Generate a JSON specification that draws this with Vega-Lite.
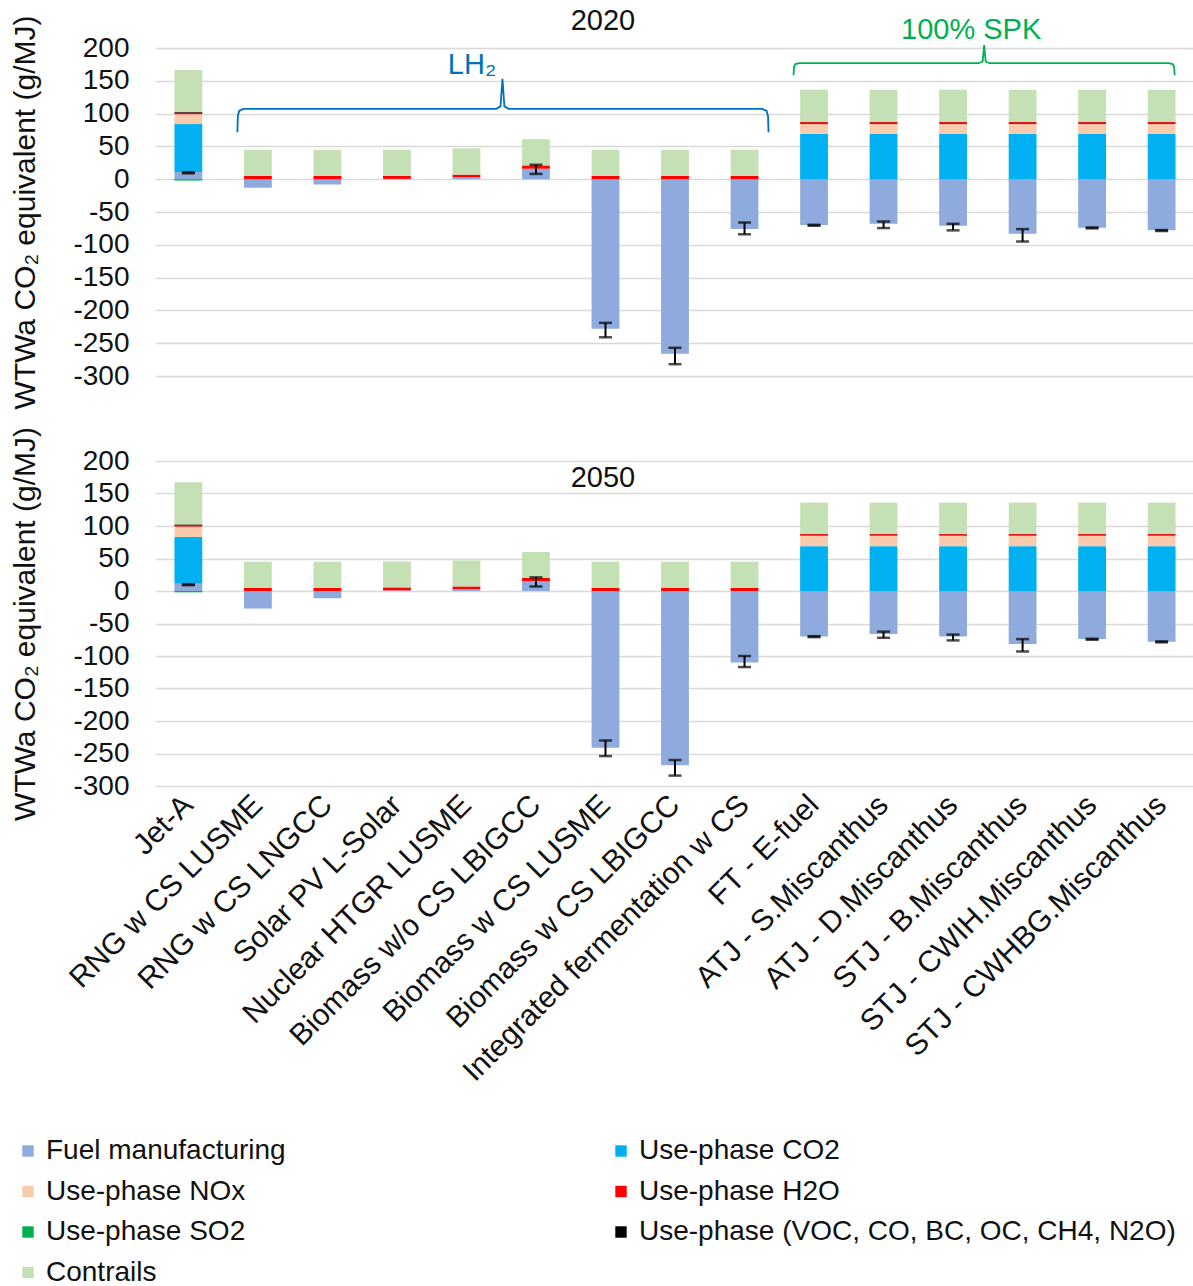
{
  "$schema": "https://vega.github.io/schema/vega-lite/v6.json",
  "padding": {"left": 10, "top": 7, "right": 0, "bottom": 0},
  "bounds": "flush",
  "spacing": 85,
  "config": {
    "font": "Liberation Sans",
    "view": {"stroke": null},
    "axisY": {"grid": true, "gridColor": "#d9d9d9", "gridWidth": 1.5, "domain": false, "ticks": false, "labelFontSize": 28, "labelColor": "#111111", "labelPadding": 26, "labelExpr": "'' + datum.value", "titleFontSize": 30, "titleFontWeight": "normal", "titleColor": "#111111", "titlePadding": 32},
    "legend": {"labelColor": "#111111"}
  },
  "datasets": {
    "series": [
      {"s": "Fuel manufacturing", "k": 1},
      {"s": "Use-phase CO2", "k": 2},
      {"s": "Use-phase NOx", "k": 3},
      {"s": "Use-phase H2O", "k": 4},
      {"s": "Use-phase SO2", "k": 5},
      {"s": "Use-phase (VOC, CO, BC, OC, CH4, N2O)", "k": 6},
      {"s": "Contrails", "k": 7}
    ],
    "bars": [
      {"p": "2020", "c": "Jet-A", "s": "Fuel manufacturing", "v": 11},
      {"p": "2020", "c": "Jet-A", "s": "Use-phase CO2", "v": 73},
      {"p": "2020", "c": "Jet-A", "s": "Use-phase NOx", "v": 15},
      {"p": "2020", "c": "Jet-A", "s": "Use-phase H2O", "v": 2.5},
      {"p": "2020", "c": "Jet-A", "s": "Use-phase SO2", "v": -2},
      {"p": "2020", "c": "Jet-A", "s": "Use-phase (VOC, CO, BC, OC, CH4, N2O)", "v": 1},
      {"p": "2020", "c": "Jet-A", "s": "Contrails", "v": 64},
      {"p": "2020", "c": "RNG w CS LUSME", "s": "Fuel manufacturing", "v": -13},
      {"p": "2020", "c": "RNG w CS LUSME", "s": "Use-phase H2O", "v": 5},
      {"p": "2020", "c": "RNG w CS LUSME", "s": "Contrails", "v": 40},
      {"p": "2020", "c": "RNG w CS LNGCC", "s": "Fuel manufacturing", "v": -8},
      {"p": "2020", "c": "RNG w CS LNGCC", "s": "Use-phase H2O", "v": 5},
      {"p": "2020", "c": "RNG w CS LNGCC", "s": "Contrails", "v": 40},
      {"p": "2020", "c": "Solar PV L-Solar", "s": "Fuel manufacturing", "v": 0.5},
      {"p": "2020", "c": "Solar PV L-Solar", "s": "Use-phase H2O", "v": 4.5},
      {"p": "2020", "c": "Solar PV L-Solar", "s": "Contrails", "v": 40},
      {"p": "2020", "c": "Nuclear HTGR LUSME", "s": "Fuel manufacturing", "v": 3},
      {"p": "2020", "c": "Nuclear HTGR LUSME", "s": "Use-phase H2O", "v": 4},
      {"p": "2020", "c": "Nuclear HTGR LUSME", "s": "Contrails", "v": 40},
      {"p": "2020", "c": "Biomass w/o CS LBIGCC", "s": "Fuel manufacturing", "v": 16},
      {"p": "2020", "c": "Biomass w/o CS LBIGCC", "s": "Use-phase H2O", "v": 5},
      {"p": "2020", "c": "Biomass w/o CS LBIGCC", "s": "Contrails", "v": 40},
      {"p": "2020", "c": "Biomass w CS LUSME", "s": "Fuel manufacturing", "v": -228},
      {"p": "2020", "c": "Biomass w CS LUSME", "s": "Use-phase H2O", "v": 5},
      {"p": "2020", "c": "Biomass w CS LUSME", "s": "Contrails", "v": 40},
      {"p": "2020", "c": "Biomass w CS LBIGCC", "s": "Fuel manufacturing", "v": -266},
      {"p": "2020", "c": "Biomass w CS LBIGCC", "s": "Use-phase H2O", "v": 5},
      {"p": "2020", "c": "Biomass w CS LBIGCC", "s": "Contrails", "v": 40},
      {"p": "2020", "c": "Integrated fermentation w CS", "s": "Fuel manufacturing", "v": -76},
      {"p": "2020", "c": "Integrated fermentation w CS", "s": "Use-phase H2O", "v": 5},
      {"p": "2020", "c": "Integrated fermentation w CS", "s": "Contrails", "v": 40},
      {"p": "2020", "c": "FT - E-fuel", "s": "Fuel manufacturing", "v": -70},
      {"p": "2020", "c": "FT - E-fuel", "s": "Use-phase CO2", "v": 69},
      {"p": "2020", "c": "FT - E-fuel", "s": "Use-phase NOx", "v": 15},
      {"p": "2020", "c": "FT - E-fuel", "s": "Use-phase H2O", "v": 3},
      {"p": "2020", "c": "FT - E-fuel", "s": "Use-phase (VOC, CO, BC, OC, CH4, N2O)", "v": 0.5},
      {"p": "2020", "c": "FT - E-fuel", "s": "Contrails", "v": 49},
      {"p": "2020", "c": "ATJ - S.Miscanthus", "s": "Fuel manufacturing", "v": -68},
      {"p": "2020", "c": "ATJ - S.Miscanthus", "s": "Use-phase CO2", "v": 69},
      {"p": "2020", "c": "ATJ - S.Miscanthus", "s": "Use-phase NOx", "v": 15},
      {"p": "2020", "c": "ATJ - S.Miscanthus", "s": "Use-phase H2O", "v": 3},
      {"p": "2020", "c": "ATJ - S.Miscanthus", "s": "Use-phase (VOC, CO, BC, OC, CH4, N2O)", "v": 0.5},
      {"p": "2020", "c": "ATJ - S.Miscanthus", "s": "Contrails", "v": 49},
      {"p": "2020", "c": "ATJ - D.Miscanthus", "s": "Fuel manufacturing", "v": -71},
      {"p": "2020", "c": "ATJ - D.Miscanthus", "s": "Use-phase CO2", "v": 69},
      {"p": "2020", "c": "ATJ - D.Miscanthus", "s": "Use-phase NOx", "v": 15},
      {"p": "2020", "c": "ATJ - D.Miscanthus", "s": "Use-phase H2O", "v": 3},
      {"p": "2020", "c": "ATJ - D.Miscanthus", "s": "Use-phase (VOC, CO, BC, OC, CH4, N2O)", "v": 0.5},
      {"p": "2020", "c": "ATJ - D.Miscanthus", "s": "Contrails", "v": 49},
      {"p": "2020", "c": "STJ - B.Miscanthus", "s": "Fuel manufacturing", "v": -83},
      {"p": "2020", "c": "STJ - B.Miscanthus", "s": "Use-phase CO2", "v": 69},
      {"p": "2020", "c": "STJ - B.Miscanthus", "s": "Use-phase NOx", "v": 15},
      {"p": "2020", "c": "STJ - B.Miscanthus", "s": "Use-phase H2O", "v": 3},
      {"p": "2020", "c": "STJ - B.Miscanthus", "s": "Use-phase (VOC, CO, BC, OC, CH4, N2O)", "v": 0.5},
      {"p": "2020", "c": "STJ - B.Miscanthus", "s": "Contrails", "v": 49},
      {"p": "2020", "c": "STJ - CWIH.Miscanthus", "s": "Fuel manufacturing", "v": -74},
      {"p": "2020", "c": "STJ - CWIH.Miscanthus", "s": "Use-phase CO2", "v": 69},
      {"p": "2020", "c": "STJ - CWIH.Miscanthus", "s": "Use-phase NOx", "v": 15},
      {"p": "2020", "c": "STJ - CWIH.Miscanthus", "s": "Use-phase H2O", "v": 3},
      {"p": "2020", "c": "STJ - CWIH.Miscanthus", "s": "Use-phase (VOC, CO, BC, OC, CH4, N2O)", "v": 0.5},
      {"p": "2020", "c": "STJ - CWIH.Miscanthus", "s": "Contrails", "v": 49},
      {"p": "2020", "c": "STJ - CWHBG.Miscanthus", "s": "Fuel manufacturing", "v": -78},
      {"p": "2020", "c": "STJ - CWHBG.Miscanthus", "s": "Use-phase CO2", "v": 69},
      {"p": "2020", "c": "STJ - CWHBG.Miscanthus", "s": "Use-phase NOx", "v": 15},
      {"p": "2020", "c": "STJ - CWHBG.Miscanthus", "s": "Use-phase H2O", "v": 3},
      {"p": "2020", "c": "STJ - CWHBG.Miscanthus", "s": "Use-phase (VOC, CO, BC, OC, CH4, N2O)", "v": 0.5},
      {"p": "2020", "c": "STJ - CWHBG.Miscanthus", "s": "Contrails", "v": 49},

      {"p": "2050", "c": "Jet-A", "s": "Fuel manufacturing", "v": 11},
      {"p": "2050", "c": "Jet-A", "s": "Use-phase CO2", "v": 72},
      {"p": "2050", "c": "Jet-A", "s": "Use-phase NOx", "v": 16},
      {"p": "2050", "c": "Jet-A", "s": "Use-phase H2O", "v": 2.5},
      {"p": "2050", "c": "Jet-A", "s": "Use-phase SO2", "v": -2},
      {"p": "2050", "c": "Jet-A", "s": "Use-phase (VOC, CO, BC, OC, CH4, N2O)", "v": 1},
      {"p": "2050", "c": "Jet-A", "s": "Contrails", "v": 65},
      {"p": "2050", "c": "RNG w CS LUSME", "s": "Fuel manufacturing", "v": -27},
      {"p": "2050", "c": "RNG w CS LUSME", "s": "Use-phase H2O", "v": 5},
      {"p": "2050", "c": "RNG w CS LUSME", "s": "Contrails", "v": 40},
      {"p": "2050", "c": "RNG w CS LNGCC", "s": "Fuel manufacturing", "v": -11},
      {"p": "2050", "c": "RNG w CS LNGCC", "s": "Use-phase H2O", "v": 5},
      {"p": "2050", "c": "RNG w CS LNGCC", "s": "Contrails", "v": 40},
      {"p": "2050", "c": "Solar PV L-Solar", "s": "Fuel manufacturing", "v": 1},
      {"p": "2050", "c": "Solar PV L-Solar", "s": "Use-phase H2O", "v": 4.5},
      {"p": "2050", "c": "Solar PV L-Solar", "s": "Contrails", "v": 40},
      {"p": "2050", "c": "Nuclear HTGR LUSME", "s": "Fuel manufacturing", "v": 3},
      {"p": "2050", "c": "Nuclear HTGR LUSME", "s": "Use-phase H2O", "v": 4},
      {"p": "2050", "c": "Nuclear HTGR LUSME", "s": "Contrails", "v": 40},
      {"p": "2050", "c": "Biomass w/o CS LBIGCC", "s": "Fuel manufacturing", "v": 15},
      {"p": "2050", "c": "Biomass w/o CS LBIGCC", "s": "Use-phase H2O", "v": 5},
      {"p": "2050", "c": "Biomass w/o CS LBIGCC", "s": "Contrails", "v": 40},
      {"p": "2050", "c": "Biomass w CS LUSME", "s": "Fuel manufacturing", "v": -241},
      {"p": "2050", "c": "Biomass w CS LUSME", "s": "Use-phase H2O", "v": 5},
      {"p": "2050", "c": "Biomass w CS LUSME", "s": "Contrails", "v": 40},
      {"p": "2050", "c": "Biomass w CS LBIGCC", "s": "Fuel manufacturing", "v": -268},
      {"p": "2050", "c": "Biomass w CS LBIGCC", "s": "Use-phase H2O", "v": 5},
      {"p": "2050", "c": "Biomass w CS LBIGCC", "s": "Contrails", "v": 40},
      {"p": "2050", "c": "Integrated fermentation w CS", "s": "Fuel manufacturing", "v": -110},
      {"p": "2050", "c": "Integrated fermentation w CS", "s": "Use-phase H2O", "v": 5},
      {"p": "2050", "c": "Integrated fermentation w CS", "s": "Contrails", "v": 40},
      {"p": "2050", "c": "FT - E-fuel", "s": "Fuel manufacturing", "v": -70},
      {"p": "2050", "c": "FT - E-fuel", "s": "Use-phase CO2", "v": 69},
      {"p": "2050", "c": "FT - E-fuel", "s": "Use-phase NOx", "v": 16},
      {"p": "2050", "c": "FT - E-fuel", "s": "Use-phase H2O", "v": 2.5},
      {"p": "2050", "c": "FT - E-fuel", "s": "Use-phase (VOC, CO, BC, OC, CH4, N2O)", "v": 0.5},
      {"p": "2050", "c": "FT - E-fuel", "s": "Contrails", "v": 48},
      {"p": "2050", "c": "ATJ - S.Miscanthus", "s": "Fuel manufacturing", "v": -66},
      {"p": "2050", "c": "ATJ - S.Miscanthus", "s": "Use-phase CO2", "v": 69},
      {"p": "2050", "c": "ATJ - S.Miscanthus", "s": "Use-phase NOx", "v": 16},
      {"p": "2050", "c": "ATJ - S.Miscanthus", "s": "Use-phase H2O", "v": 2.5},
      {"p": "2050", "c": "ATJ - S.Miscanthus", "s": "Use-phase (VOC, CO, BC, OC, CH4, N2O)", "v": 0.5},
      {"p": "2050", "c": "ATJ - S.Miscanthus", "s": "Contrails", "v": 48},
      {"p": "2050", "c": "ATJ - D.Miscanthus", "s": "Fuel manufacturing", "v": -70},
      {"p": "2050", "c": "ATJ - D.Miscanthus", "s": "Use-phase CO2", "v": 69},
      {"p": "2050", "c": "ATJ - D.Miscanthus", "s": "Use-phase NOx", "v": 16},
      {"p": "2050", "c": "ATJ - D.Miscanthus", "s": "Use-phase H2O", "v": 2.5},
      {"p": "2050", "c": "ATJ - D.Miscanthus", "s": "Use-phase (VOC, CO, BC, OC, CH4, N2O)", "v": 0.5},
      {"p": "2050", "c": "ATJ - D.Miscanthus", "s": "Contrails", "v": 48},
      {"p": "2050", "c": "STJ - B.Miscanthus", "s": "Fuel manufacturing", "v": -81.5},
      {"p": "2050", "c": "STJ - B.Miscanthus", "s": "Use-phase CO2", "v": 69},
      {"p": "2050", "c": "STJ - B.Miscanthus", "s": "Use-phase NOx", "v": 16},
      {"p": "2050", "c": "STJ - B.Miscanthus", "s": "Use-phase H2O", "v": 2.5},
      {"p": "2050", "c": "STJ - B.Miscanthus", "s": "Use-phase (VOC, CO, BC, OC, CH4, N2O)", "v": 0.5},
      {"p": "2050", "c": "STJ - B.Miscanthus", "s": "Contrails", "v": 48},
      {"p": "2050", "c": "STJ - CWIH.Miscanthus", "s": "Fuel manufacturing", "v": -74},
      {"p": "2050", "c": "STJ - CWIH.Miscanthus", "s": "Use-phase CO2", "v": 69},
      {"p": "2050", "c": "STJ - CWIH.Miscanthus", "s": "Use-phase NOx", "v": 16},
      {"p": "2050", "c": "STJ - CWIH.Miscanthus", "s": "Use-phase H2O", "v": 2.5},
      {"p": "2050", "c": "STJ - CWIH.Miscanthus", "s": "Use-phase (VOC, CO, BC, OC, CH4, N2O)", "v": 0.5},
      {"p": "2050", "c": "STJ - CWIH.Miscanthus", "s": "Contrails", "v": 48},
      {"p": "2050", "c": "STJ - CWHBG.Miscanthus", "s": "Fuel manufacturing", "v": -78},
      {"p": "2050", "c": "STJ - CWHBG.Miscanthus", "s": "Use-phase CO2", "v": 69},
      {"p": "2050", "c": "STJ - CWHBG.Miscanthus", "s": "Use-phase NOx", "v": 16},
      {"p": "2050", "c": "STJ - CWHBG.Miscanthus", "s": "Use-phase H2O", "v": 2.5},
      {"p": "2050", "c": "STJ - CWHBG.Miscanthus", "s": "Use-phase (VOC, CO, BC, OC, CH4, N2O)", "v": 0.5},
      {"p": "2050", "c": "STJ - CWHBG.Miscanthus", "s": "Contrails", "v": 48}
    ],
    "errs": [
      {"p": "2020", "c": "Jet-A", "lo": 9, "hi": 10.5},
      {"p": "2020", "c": "Biomass w/o CS LBIGCC", "lo": 8, "hi": 22},
      {"p": "2020", "c": "Biomass w CS LUSME", "lo": -241, "hi": -219},
      {"p": "2020", "c": "Biomass w CS LBIGCC", "lo": -282, "hi": -257},
      {"p": "2020", "c": "Integrated fermentation w CS", "lo": -84, "hi": -66},
      {"p": "2020", "c": "FT - E-fuel", "lo": -71, "hi": -69.5},
      {"p": "2020", "c": "ATJ - S.Miscanthus", "lo": -74.5, "hi": -64.5},
      {"p": "2020", "c": "ATJ - D.Miscanthus", "lo": -78, "hi": -68},
      {"p": "2020", "c": "STJ - B.Miscanthus", "lo": -95, "hi": -76},
      {"p": "2020", "c": "STJ - CWIH.Miscanthus", "lo": -75, "hi": -73.5},
      {"p": "2020", "c": "STJ - CWHBG.Miscanthus", "lo": -79, "hi": -77.5},
      {"p": "2050", "c": "Jet-A", "lo": 9, "hi": 10.5},
      {"p": "2050", "c": "Biomass w/o CS LBIGCC", "lo": 7, "hi": 21},
      {"p": "2050", "c": "Biomass w CS LUSME", "lo": -254, "hi": -230},
      {"p": "2050", "c": "Biomass w CS LBIGCC", "lo": -284, "hi": -260},
      {"p": "2050", "c": "Integrated fermentation w CS", "lo": -117, "hi": -100},
      {"p": "2050", "c": "FT - E-fuel", "lo": -71, "hi": -69.5},
      {"p": "2050", "c": "ATJ - S.Miscanthus", "lo": -72, "hi": -62.5},
      {"p": "2050", "c": "ATJ - D.Miscanthus", "lo": -76, "hi": -67},
      {"p": "2050", "c": "STJ - B.Miscanthus", "lo": -93, "hi": -74},
      {"p": "2050", "c": "STJ - CWIH.Miscanthus", "lo": -75, "hi": -73.5},
      {"p": "2050", "c": "STJ - CWHBG.Miscanthus", "lo": -79, "hi": -77.5}
    ],
    "brace": [
      {"g": "LH2", "i": 0.705, "v": 71.6},
      {"g": "LH2", "i": 0.712, "v": 96},
      {"g": "LH2", "i": 0.73, "v": 104},
      {"g": "LH2", "i": 0.79, "v": 107.2},
      {"g": "LH2", "i": 4.43, "v": 107.2},
      {"g": "LH2", "i": 4.49, "v": 111},
      {"g": "LH2", "i": 4.518, "v": 152.9},
      {"g": "LH2", "i": 4.546, "v": 111},
      {"g": "LH2", "i": 4.606, "v": 107.2},
      {"g": "LH2", "i": 8.255, "v": 107.2},
      {"g": "LH2", "i": 8.318, "v": 104},
      {"g": "LH2", "i": 8.338, "v": 96},
      {"g": "LH2", "i": 8.345, "v": 71.6},
      {"g": "SPK", "i": 8.705, "v": 158.5},
      {"g": "SPK", "i": 8.712, "v": 171},
      {"g": "SPK", "i": 8.73, "v": 175.5},
      {"g": "SPK", "i": 8.79, "v": 176.8},
      {"g": "SPK", "i": 11.37, "v": 176.8},
      {"g": "SPK", "i": 11.425, "v": 179.5},
      {"g": "SPK", "i": 11.447, "v": 204.3},
      {"g": "SPK", "i": 11.469, "v": 179.5},
      {"g": "SPK", "i": 11.524, "v": 176.8},
      {"g": "SPK", "i": 14.1, "v": 176.8},
      {"g": "SPK", "i": 14.16, "v": 175.5},
      {"g": "SPK", "i": 14.18, "v": 171},
      {"g": "SPK", "i": 14.187, "v": 158.5}
    ],
    "notes": [
      {"g": "LH2", "t": "LH₂", "i": 4.08, "v": 174},
      {"g": "SPK", "t": "100% SPK", "i": 11.26, "v": 228}
    ]
  },
  "vconcat": [
    {
      "width": 1040,
      "height": 328,
      "title": {"text": "2020", "fontSize": 29, "fontWeight": "normal", "offset": -21, "frame": "bounds", "anchor": "middle", "color": "#111111"},
      "layer": [
        {
          "layer": [
            {
              "data": {"name": "bars"},
              "transform": [
                {"filter": "datum.p == '2020'"},
                {"lookup": "s", "from": {"data": {"name": "series"}, "key": "s", "fields": ["k"]}}
              ],
              "mark": {"type": "bar"},
              "encoding": {
                "x": {"field": "c", "type": "nominal", "sort": null, "axis": null, "scale": {"domain": ["Jet-A", "RNG w CS LUSME", "RNG w CS LNGCC", "Solar PV L-Solar", "Nuclear HTGR LUSME", "Biomass w/o CS LBIGCC", "Biomass w CS LUSME", "Biomass w CS LBIGCC", "Integrated fermentation w CS", "FT - E-fuel", "ATJ - S.Miscanthus", "ATJ - D.Miscanthus", "STJ - B.Miscanthus", "STJ - CWIH.Miscanthus", "STJ - CWHBG.Miscanthus"], "paddingInner": 0.6, "paddingOuter": 0.28}},
                "y": {"field": "v", "type": "quantitative", "stack": "zero", "scale": {"domain": [-300, 200], "nice": false, "zero": false}, "axis": {"title": "WTWa CO₂ equivalent (g/MJ)", "values": [-300, -250, -200, -150, -100, -50, 0, 50, 100, 150, 200]}},
                "color": {"field": "s", "type": "nominal", "scale": {"domain": ["Fuel manufacturing", "Use-phase CO2", "Use-phase NOx", "Use-phase H2O", "Use-phase SO2", "Use-phase (VOC, CO, BC, OC, CH4, N2O)", "Contrails"], "range": ["#8faadc", "#00b0f0", "#f8cbad", "#ff0000", "#00b050", "#000000", "#c5e0b4"]}, "legend": {"orient": "none", "legendX": -141, "legendY": 1089, "direction": "horizontal", "columns": 2, "columnPadding": 321, "rowPadding": 12.5, "symbolType": "square", "symbolSize": 130, "symbolStrokeWidth": 0, "labelFontSize": 28, "labelLimit": 800, "labelOffset": 4, "title": null}},
                "order": {"field": "k", "type": "quantitative", "sort": "ascending"}
              }
            },
            {
              "data": {"name": "errs"},
              "transform": [{"filter": "datum.p == '2020'"}],
              "mark": {"type": "errorbar", "ticks": {"size": 13, "thickness": 2.5, "color": "black"}, "rule": {"strokeWidth": 2, "color": "black"}},
              "encoding": {
                "x": {"field": "c", "type": "nominal", "sort": null, "axis": null, "scale": {"domain": ["Jet-A", "RNG w CS LUSME", "RNG w CS LNGCC", "Solar PV L-Solar", "Nuclear HTGR LUSME", "Biomass w/o CS LBIGCC", "Biomass w CS LUSME", "Biomass w CS LBIGCC", "Integrated fermentation w CS", "FT - E-fuel", "ATJ - S.Miscanthus", "ATJ - D.Miscanthus", "STJ - B.Miscanthus", "STJ - CWIH.Miscanthus", "STJ - CWHBG.Miscanthus"], "paddingInner": 0.6, "paddingOuter": 0.28}},
                "y": {"field": "lo", "type": "quantitative", "scale": {"domain": [-300, 200], "nice": false, "zero": false}, "axis": {"title": "WTWa CO₂ equivalent (g/MJ)", "values": [-300, -250, -200, -150, -100, -50, 0, 50, 100, 150, 200]}},
                "y2": {"field": "hi"}
              }
            }
          ]
        },
        {
          "layer": [
            {
              "data": {"name": "brace"},
              "transform": [{"filter": "datum.g == 'LH2'"}],
              "mark": {"type": "line", "color": "#0070c0", "strokeWidth": 1.8},
              "encoding": {
                "x": {"field": "i", "type": "quantitative", "scale": {"domain": [-0.48, 14.48], "nice": false, "zero": false}, "axis": null},
                "y": {"field": "v", "type": "quantitative", "scale": {"domain": [-300, 200], "nice": false, "zero": false}, "axis": {"title": "WTWa CO₂ equivalent (g/MJ)", "values": [-300, -250, -200, -150, -100, -50, 0, 50, 100, 150, 200]}}
              }
            },
            {
              "data": {"name": "brace"},
              "transform": [{"filter": "datum.g == 'SPK'"}],
              "mark": {"type": "line", "color": "#00b050", "strokeWidth": 1.8},
              "encoding": {
                "x": {"field": "i", "type": "quantitative", "scale": {"domain": [-0.48, 14.48], "nice": false, "zero": false}, "axis": null},
                "y": {"field": "v", "type": "quantitative", "scale": {"domain": [-300, 200], "nice": false, "zero": false}, "axis": {"title": "WTWa CO₂ equivalent (g/MJ)", "values": [-300, -250, -200, -150, -100, -50, 0, 50, 100, 150, 200]}}
              }
            },
            {
              "data": {"name": "notes"},
              "transform": [{"filter": "datum.g == 'LH2'"}],
              "mark": {"type": "text", "fontSize": 29, "color": "#0070c0", "align": "center", "baseline": "middle"},
              "encoding": {
                "x": {"field": "i", "type": "quantitative", "scale": {"domain": [-0.48, 14.48], "nice": false, "zero": false}, "axis": null},
                "y": {"field": "v", "type": "quantitative", "scale": {"domain": [-300, 200], "nice": false, "zero": false}, "axis": {"title": "WTWa CO₂ equivalent (g/MJ)", "values": [-300, -250, -200, -150, -100, -50, 0, 50, 100, 150, 200]}},
                "text": {"field": "t"}
              }
            },
            {
              "data": {"name": "notes"},
              "transform": [{"filter": "datum.g == 'SPK'"}],
              "mark": {"type": "text", "fontSize": 29, "color": "#00b050", "align": "center", "baseline": "middle"},
              "encoding": {
                "x": {"field": "i", "type": "quantitative", "scale": {"domain": [-0.48, 14.48], "nice": false, "zero": false}, "axis": null},
                "y": {"field": "v", "type": "quantitative", "scale": {"domain": [-300, 200], "nice": false, "zero": false}, "axis": {"title": "WTWa CO₂ equivalent (g/MJ)", "values": [-300, -250, -200, -150, -100, -50, 0, 50, 100, 150, 200]}},
                "text": {"field": "t"}
              }
            }
          ]
        }
      ],
      "resolve": {"scale": {"x": "independent"}}
    },
    {
      "width": 1040,
      "height": 325,
      "title": {"text": "2050", "fontSize": 29, "fontWeight": "normal", "offset": -66, "frame": "bounds", "anchor": "middle", "color": "#111111"},
      "layer": [
        {
          "data": {"name": "bars"},
          "transform": [
            {"filter": "datum.p == '2050'"},
            {"lookup": "s", "from": {"data": {"name": "series"}, "key": "s", "fields": ["k"]}}
          ],
          "mark": {"type": "bar"},
          "encoding": {
            "x": {"field": "c", "type": "nominal", "sort": null, "scale": {"domain": ["Jet-A", "RNG w CS LUSME", "RNG w CS LNGCC", "Solar PV L-Solar", "Nuclear HTGR LUSME", "Biomass w/o CS LBIGCC", "Biomass w CS LUSME", "Biomass w CS LBIGCC", "Integrated fermentation w CS", "FT - E-fuel", "ATJ - S.Miscanthus", "ATJ - D.Miscanthus", "STJ - B.Miscanthus", "STJ - CWIH.Miscanthus", "STJ - CWHBG.Miscanthus"], "paddingInner": 0.6, "paddingOuter": 0.28}, "axis": {"title": null, "labelAngle": -45, "labelAlign": "right", "labelBaseline": "middle", "labelFontSize": 30, "labelColor": "#111111", "labelLimit": 1000, "labelPadding": 14, "ticks": false, "domain": false, "grid": false}},
            "y": {"field": "v", "type": "quantitative", "stack": "zero", "scale": {"domain": [-300, 200], "nice": false, "zero": false}, "axis": {"title": "WTWa CO₂ equivalent (g/MJ)", "values": [-300, -250, -200, -150, -100, -50, 0, 50, 100, 150, 200]}},
            "color": {"field": "s", "type": "nominal", "scale": {"domain": ["Fuel manufacturing", "Use-phase CO2", "Use-phase NOx", "Use-phase H2O", "Use-phase SO2", "Use-phase (VOC, CO, BC, OC, CH4, N2O)", "Contrails"], "range": ["#8faadc", "#00b0f0", "#f8cbad", "#ff0000", "#00b050", "#000000", "#c5e0b4"]}, "legend": {"orient": "none", "legendX": -141, "legendY": 1089, "direction": "horizontal", "columns": 2, "columnPadding": 321, "rowPadding": 12.5, "symbolType": "square", "symbolSize": 130, "symbolStrokeWidth": 0, "labelFontSize": 28, "labelLimit": 800, "labelOffset": 4, "title": null}},
            "order": {"field": "k", "type": "quantitative", "sort": "ascending"}
          }
        },
        {
          "data": {"name": "errs"},
          "transform": [{"filter": "datum.p == '2050'"}],
          "mark": {"type": "errorbar", "ticks": {"size": 13, "thickness": 2.5, "color": "black"}, "rule": {"strokeWidth": 2, "color": "black"}},
          "encoding": {
            "x": {"field": "c", "type": "nominal", "sort": null, "scale": {"domain": ["Jet-A", "RNG w CS LUSME", "RNG w CS LNGCC", "Solar PV L-Solar", "Nuclear HTGR LUSME", "Biomass w/o CS LBIGCC", "Biomass w CS LUSME", "Biomass w CS LBIGCC", "Integrated fermentation w CS", "FT - E-fuel", "ATJ - S.Miscanthus", "ATJ - D.Miscanthus", "STJ - B.Miscanthus", "STJ - CWIH.Miscanthus", "STJ - CWHBG.Miscanthus"], "paddingInner": 0.6, "paddingOuter": 0.28}, "axis": {"title": null, "labelAngle": -45, "labelAlign": "right", "labelBaseline": "middle", "labelFontSize": 30, "labelColor": "#111111", "labelLimit": 1000, "labelPadding": 14, "ticks": false, "domain": false, "grid": false}},
            "y": {"field": "lo", "type": "quantitative", "scale": {"domain": [-300, 200], "nice": false, "zero": false}, "axis": {"title": "WTWa CO₂ equivalent (g/MJ)", "values": [-300, -250, -200, -150, -100, -50, 0, 50, 100, 150, 200]}},
            "y2": {"field": "hi"}
          }
        }
      ]
    }
  ]
}
